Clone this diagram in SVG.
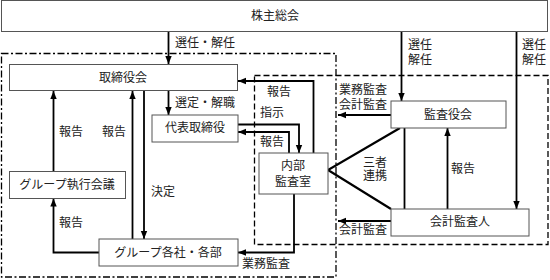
<svg xmlns="http://www.w3.org/2000/svg" width="550" height="280" viewBox="0 0 550 280">
<defs>
<marker id="ah" markerUnits="userSpaceOnUse" markerWidth="8" markerHeight="8" viewBox="0 0 8 8" refX="8" refY="4" orient="auto">
<path d="M0,0.8 L8,4 L0,7.2 Z" fill="#000"/>
</marker>
<style>
.box{fill:#fff;stroke:#555;stroke-width:1}
.t{font-family:"Liberation Serif","Noto Sans CJK JP",serif;font-size:12px;fill:#222;dominant-baseline:central}
.m{text-anchor:middle}
.c{fill:none;stroke:#000;stroke-width:1.8}
.a{marker-end:url(#ah)}
.dd{fill:none;stroke:#000;stroke-width:1.3;stroke-dasharray:7 2.5 2 2.5}
.ds{fill:none;stroke:#000;stroke-width:1.3;stroke-dasharray:6 3}
</style>
</defs>
<rect class="dd" x="1.5" y="53.5" width="334.5" height="223.5"/>
<rect class="ds" x="254.5" y="75.5" width="293.5" height="169"/>
<g id="connectors">
<path class="c a" d="M168.5 31.5 V64"/>
<path class="c a" d="M168.5 91 V115"/>
<path class="c a" d="M53.5 171.5 V91"/>
<path class="c a" d="M132.5 239 V91"/>
<path class="c a" d="M144 91 V239"/>
<path class="c a" d="M99 252.5 H53.5 V198.5"/>
<path class="c a" d="M313.5 153 V81 H238"/>
<path class="c a" d="M238 124.5 H299 V153"/>
<path class="c a" d="M289 153 V132 H238"/>
<path class="c a" d="M294 194 V252.5 H238"/>
<path class="c a" d="M401.5 31.5 V101"/>
<path class="c a" d="M516.5 31.5 V209"/>
<path class="c a" d="M391 115 H338"/>
<path class="c a" d="M391 221 H338"/>
<path class="c a" d="M447.5 209 V128"/>
<path class="c" d="M404.5 128 V209"/>
<path class="c" d="M400 128 L328 170 L391 209" style="stroke-width:2.2"/>
</g>
<g id="n-shareholders"><rect class="box" x="1.5" y="0.5" width="546" height="31"/><text class="t m" x="275" y="16">株主総会</text></g>
<g id="n-board"><rect class="box" x="9.5" y="64.5" width="228" height="26"/><text class="t m" x="123" y="78">取締役会</text></g>
<g id="n-rep"><rect class="box" x="152" y="115" width="86" height="27"/><text class="t m" x="195" y="128">代表取締役</text></g>
<g id="n-internal"><rect class="box" x="259" y="153" width="69" height="41"/><text class="t m" x="293" y="166">内部</text><text class="t m" x="293" y="182">監査室</text></g>
<g id="n-exec"><rect class="box" x="9.5" y="171.5" width="116" height="27"/><text class="t m" x="67" y="185">グループ執行会議</text></g>
<g id="n-group"><rect class="box" x="99" y="239" width="139" height="27"/><text class="t m" x="168" y="252.5">グループ各社・各部</text></g>
<g id="n-kansayaku"><rect class="box" x="391" y="101" width="115" height="27"/><text class="t m" x="448" y="114.5">監査役会</text></g>
<g id="n-auditor"><rect class="box" x="391" y="209" width="138" height="27"/><text class="t m" x="460" y="222">会計監査人</text></g>
<g id="labels">
<text class="t" x="175" y="43">選任・解任</text>
<text class="t" x="175" y="103">選定・解職</text>
<text class="t m" x="71" y="132">報告</text>
<text class="t m" x="114" y="132">報告</text>
<text class="t m" x="279" y="92">報告</text>
<text class="t m" x="272" y="113">指示</text>
<text class="t m" x="272" y="142">報告</text>
<text class="t m" x="163" y="191.5">決定</text>
<text class="t m" x="71" y="223">報告</text>
<text class="t m" x="266" y="264">業務監査</text>
<text class="t m" x="363" y="90">業務監査</text>
<text class="t m" x="363" y="104.5">会計監査</text>
<text class="t" x="408" y="45">選任</text>
<text class="t" x="408" y="60">解任</text>
<text class="t" x="522" y="45">選任</text>
<text class="t" x="522" y="60">解任</text>
<text class="t m" x="375" y="162.5">三者</text>
<text class="t m" x="375" y="175.5">連携</text>
<text class="t m" x="463" y="169">報告</text>
<text class="t m" x="363" y="230">会計監査</text>
</g>
</svg>
